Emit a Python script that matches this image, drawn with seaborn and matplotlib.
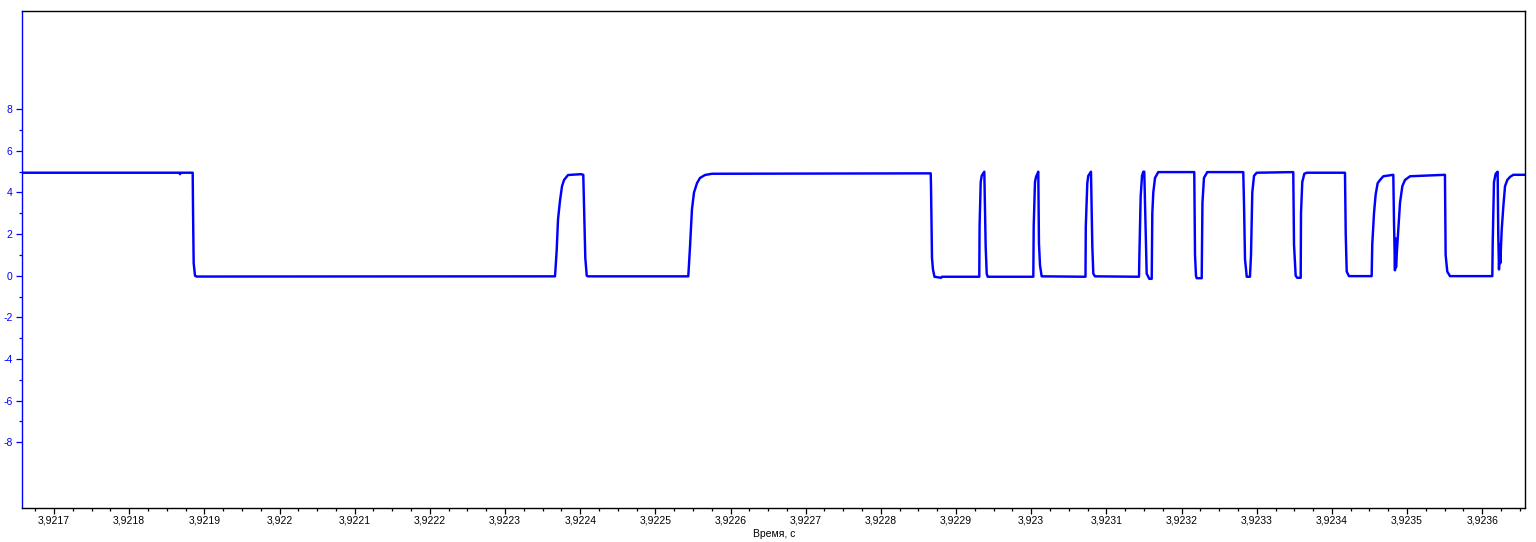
import numpy as np
import pandas as pd
import matplotlib
matplotlib.use("Agg")
import matplotlib.pyplot as plt
from matplotlib.ticker import MultipleLocator, FixedLocator, FuncFormatter
import seaborn as sns

# ---- data ----
t_base = 3.9217  # s
# time offsets after t_base, in microseconds
t_offset_us = [
    -45.2, 166.9, 167.6, 168.3, 184.5, 184.9, 185.8, 187.6, 189.6,
    666.5, 668.7, 670.5, 673.1, 675.8, 678.5, 683.8, 701.1, 704.1, 705.7, 706.8, 708.7, 710.4,
    843.8, 846.1, 848.7, 851.4, 855.4, 859.4, 866.0, 875.3,
    1166.3, 1166.7, 1168.0, 1169.3, 1171.3, 1180.0, 1181.3,
    1230.9, 1231.3, 1232.8, 1234.1, 1237.6, 1239.4, 1240.8, 1242.1,
    1302.8, 1303.3, 1305.0, 1306.4, 1309.4, 1310.3, 1311.7, 1313.9,
    1372.2, 1372.6, 1374.6, 1375.9, 1379.5, 1381.3, 1382.6, 1384.8,
    1443.4, 1443.8, 1445.6, 1447.4, 1449.1, 1450.4, 1451.4, 1452.7, 1453.6, 1457.1, 1460.3,
    1461.1, 1462.4, 1464.7, 1469.0,
    1516.9, 1517.9, 1519.2, 1520.1, 1526.8, 1527.8, 1529.8, 1534.2,
    1582.1, 1583.1, 1584.4, 1586.7, 1591.0, 1592.4, 1594.1, 1596.4, 1599.9,
    1648.6, 1649.6, 1651.8, 1653.9, 1658.5, 1658.9, 1660.6, 1663.3, 1666.5,
    1717.4, 1718.4, 1719.7, 1722.7,
    1752.9, 1753.7, 1756.0, 1758.2, 1760.9, 1764.0, 1768.4, 1781.7,
    1782.6, 1783.9, 1784.6, 1785.3, 1786.2, 1788.3, 1790.6, 1793.7, 1797.2, 1803.9,
    1850.4, 1851.3, 1853.5, 1857.1,
    1913.4, 1913.9, 1915.6, 1917.9, 1920.5, 1921.3, 1922.3, 1923.2, 1924.0, 1925.9,
    1928.0, 1930.3, 1933.3, 1937.0, 1941.3, 1960.9,
]
voltage = [
    4.95, 4.95, 4.88, 4.95, 4.95, 3.3, 0.6, 0.0, -0.04,
    -0.03, 1.2, 2.7, 3.6, 4.3, 4.6, 4.84, 4.88, 4.85, 2.5, 0.85, 0.0, -0.03,
    -0.03, 1.4, 3.2, 4.0, 4.45, 4.7, 4.84, 4.9,
    4.92, 4.3, 0.85, 0.3, -0.05, -0.1, -0.05,
    -0.05, 2.36, 4.5, 4.8, 5.0, 1.4, 0.1, -0.05,
    -0.05, 2.36, 4.5, 4.75, 5.0, 1.55, 0.5, -0.03,
    -0.05, 2.36, 4.45, 4.8, 5.0, 1.4, 0.1, -0.03,
    -0.05, 0.8, 3.8, 4.8, 5.0, 5.0, 3.5, 1.4, 0.1, -0.15, -0.15,
    3.0, 4.0, 4.7, 4.98,
    4.98, 1.0, 0.0, -0.12, -0.12, 3.5, 4.7, 4.98,
    4.98, 3.4, 0.8, -0.05, -0.05, 1.0, 4.0, 4.8, 4.95,
    4.98, 1.5, 0.0, -0.1, -0.1, 3.0, 4.5, 4.9, 4.95,
    4.95, 2.0, 0.2, -0.02,
    -0.02, 1.5, 3.0, 3.9, 4.45, 4.6, 4.78, 4.85,
    2.6, 0.26, 1.8, 0.4, 1.0, 2.2, 3.5, 4.3, 4.6, 4.78,
    4.85, 1.0, 0.2, -0.02,
    -0.02, 1.5, 4.5, 4.9, 5.0, 2.0, 0.3, 1.5, 0.6, 2.2,
    3.3, 4.3, 4.6, 4.75, 4.85, 4.85,
]
y_major_ticks = [-8, -6, -4, -2, 0, 2, 4, 6, 8]
y_minor_ticks = [-7, -5, -3, -1, 1, 3, 5, 7]
x_label = "Время, с"

df = pd.DataFrame({"t": [t_base + o * 1e-6 for o in t_offset_us], "v": voltage})

# ---- styling ----
sns.set_theme(style="white")
plt.rcParams["font.family"] = ["Liberation Sans", "DejaVu Sans"]
plt.rcParams["axes.unicode_minus"] = False

blue = "#0000FF"
fig = plt.figure(figsize=(15.36, 5.42), dpi=100)
ax = fig.add_axes([0.01452, 0.0633, 0.97852, 0.9159])

sns.lineplot(data=df, x="t", y="v", estimator=None, sort=False, color=blue,
             linewidth=1.75, ax=ax)

ax.set_xlim(3.92165783, 3.9236573)
ax.set_ylim(-11.15, 12.71)

ax.xaxis.set_major_locator(MultipleLocator(0.0001))
ax.xaxis.set_minor_locator(MultipleLocator(0.000025))
ax.xaxis.set_major_formatter(FuncFormatter(
    lambda v, p: f"{v:.4f}".rstrip("0").rstrip(".").replace(".", ",")))
ax.yaxis.set_major_locator(FixedLocator(y_major_ticks))
ax.yaxis.set_minor_locator(FixedLocator(y_minor_ticks))
ax.yaxis.set_major_formatter(FuncFormatter(lambda v, p: f"{int(round(v))}"))

ax.tick_params(axis="x", which="major", direction="out", length=4, width=0.9,
               colors="black", labelsize=7.5, pad=1.5, bottom=True)
ax.tick_params(axis="x", which="minor", direction="out", length=2.5, width=0.9,
               colors="black", bottom=True)
ax.tick_params(axis="y", which="major", direction="out", length=4, width=0.9,
               colors=blue, labelsize=7.5, pad=3, left=True)
ax.tick_params(axis="y", which="minor", direction="out", length=2.5, width=0.9,
               colors=blue, left=True)

for side in ["top", "right", "bottom"]:
    ax.spines[side].set_color("black")
    ax.spines[side].set_linewidth(1.0)
    ax.spines[side].set_visible(True)
ax.spines["left"].set_color(blue)
ax.spines["left"].set_linewidth(1.0)

ax.set_xlabel(x_label, fontsize=7.5, color="black", labelpad=3)
ax.set_ylabel("")
ax.grid(False)

fig.savefig("out.png", dpi=100)
